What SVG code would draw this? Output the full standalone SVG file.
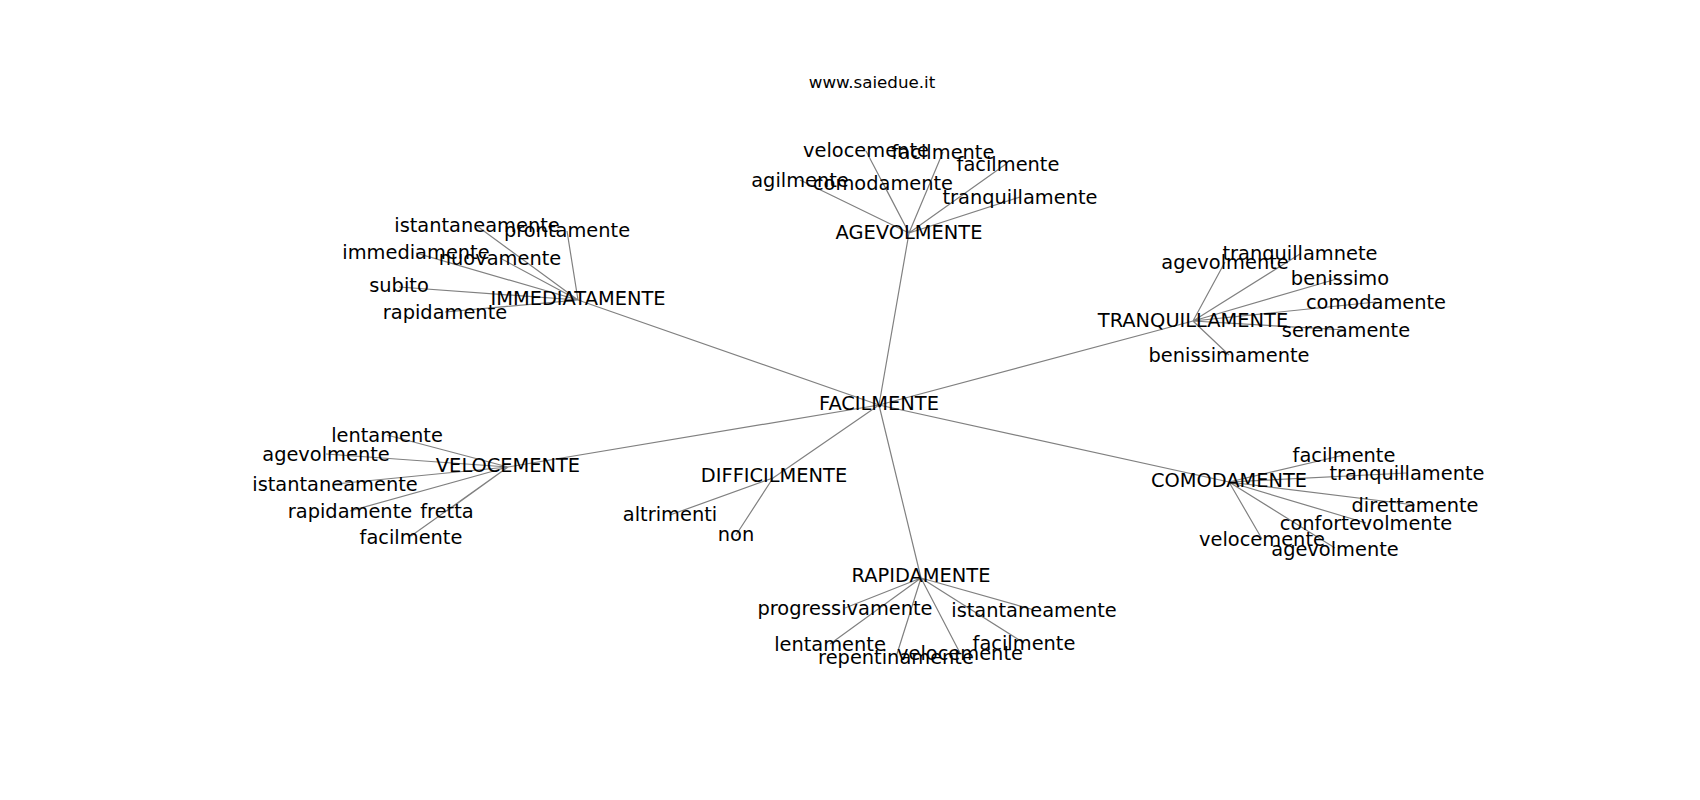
<svg xmlns="http://www.w3.org/2000/svg" width="1700" height="800" viewBox="0 0 1700 800">
<style>
.e{stroke:#808080;stroke-width:1.2;fill:none}
text{font-family:"DejaVu Sans","Liberation Sans",sans-serif;font-size:19.4px;fill:#000;text-anchor:middle}
.t{font-size:16.7px}
</style>
<rect width="1700" height="800" fill="#fff"/>
<text class="t" x="872" y="88">www.saiedue.it</text>
<g id="connectors">
<path class="e" d="M879 405L909 233M879 405L578 300M879 405L1193 321M879 405L508 467M879 405L773 478M879 405L1229 482M879 405L921 578"/>
<path class="e" d="M909 233L866 151M909 233L943 152M909 233L1006 164M909 233L800 180M909 233L883 183M909 233L1020 197"/>
<path class="e" d="M578 300L477 226M578 300L567 231M578 300L416 253M578 300L500 258M578 300L399 287M578 300L445 312"/>
<path class="e" d="M1193 321L1225 262M1193 321L1300 254M1193 321L1340 278M1193 321L1376 302M1193 321L1346 330M1193 321L1229 355"/>
<path class="e" d="M508 467L387 435M508 467L326 454M508 467L335 484M508 467L350 511M508 467L447 511M508 467L411 536"/>
<path class="e" d="M773 478L670 515M773 478L736 535"/>
<path class="e" d="M1229 482L1344 455M1229 482L1407 473M1229 482L1415 505M1229 482L1366 523M1229 482L1262 539M1229 482L1335 548"/>
<path class="e" d="M921 578L845 608M921 578L1034 610M921 578L830 644M921 578L896 657M921 578L960 653M921 578L1024 643"/>
</g>
<g id="n-facilmente"><text x="879" y="410">FACILMENTE</text></g>
<g id="n-agevolmente"><text x="909" y="239">AGEVOLMENTE</text></g>
<g id="n-immediatamente"><text x="578" y="305">IMMEDIATAMENTE</text></g>
<g id="n-tranquillamente"><text x="1193" y="327">TRANQUILLAMENTE</text></g>
<g id="n-velocemente"><text x="508" y="472">VELOCEMENTE</text></g>
<g id="n-difficilmente"><text x="774" y="482">DIFFICILMENTE</text></g>
<g id="n-comodamente"><text x="1229" y="487">COMODAMENTE</text></g>
<g id="n-rapidamente"><text x="921" y="582">RAPIDAMENTE</text></g>

<g id="a-velocemente"><text x="866" y="157">velocemente</text></g>
<g id="a-facilmente1"><text x="943" y="159">facilmente</text></g>
<g id="a-facilmente2"><text x="1008" y="171">facilmente</text></g>
<g id="a-agilmente"><text x="800" y="187">agilmente</text></g>
<g id="a-comodamente"><text x="883" y="190">comodamente</text></g>
<g id="a-tranquillamente"><text x="1020" y="204">tranquillamente</text></g>

<g id="i-istantaneamente"><text x="477" y="232">istantaneamente</text></g>
<g id="i-prontamente"><text x="567" y="237">prontamente</text></g>
<g id="i-immediamente"><text x="416" y="259">immediamente</text></g>
<g id="i-nuovamente"><text x="500" y="265">nuovamente</text></g>
<g id="i-subito"><text x="399" y="292">subito</text></g>
<g id="i-rapidamente"><text x="445" y="319">rapidamente</text></g>

<g id="t-agevolmente"><text x="1225" y="269">agevolmente</text></g>
<g id="t-tranquillamnete"><text x="1300" y="260">tranquillamnete</text></g>
<g id="t-benissimo"><text x="1340" y="285">benissimo</text></g>
<g id="t-comodamente"><text x="1376" y="309">comodamente</text></g>
<g id="t-serenamente"><text x="1346" y="337">serenamente</text></g>
<g id="t-benissimamente"><text x="1229" y="362">benissimamente</text></g>

<g id="v-lentamente"><text x="387" y="442">lentamente</text></g>
<g id="v-agevolmente"><text x="326" y="461">agevolmente</text></g>
<g id="v-istantaneamente"><text x="335" y="491">istantaneamente</text></g>
<g id="v-rapidamente"><text x="350" y="518">rapidamente</text></g>
<g id="v-fretta"><text x="447" y="518">fretta</text></g>
<g id="v-facilmente"><text x="411" y="544">facilmente</text></g>

<g id="d-altrimenti"><text x="670" y="521">altrimenti</text></g>
<g id="d-non"><text x="736" y="541">non</text></g>

<g id="c-facilmente"><text x="1344" y="462">facilmente</text></g>
<g id="c-tranquillamente"><text x="1407" y="480">tranquillamente</text></g>
<g id="c-direttamente"><text x="1415" y="512">direttamente</text></g>
<g id="c-confortevolmente"><text x="1366" y="530">confortevolmente</text></g>
<g id="c-velocemente"><text x="1262" y="546">velocemente</text></g>
<g id="c-agevolmente"><text x="1335" y="556">agevolmente</text></g>

<g id="r-progressivamente"><text x="845" y="615">progressivamente</text></g>
<g id="r-istantaneamente"><text x="1034" y="617">istantaneamente</text></g>
<g id="r-lentamente"><text x="830" y="651">lentamente</text></g>
<g id="r-repentinamente"><text x="896" y="664">repentinamente</text></g>
<g id="r-velocemente"><text x="960" y="660">velocemente</text></g>
<g id="r-facilmente"><text x="1024" y="650">facilmente</text></g>
</svg>
